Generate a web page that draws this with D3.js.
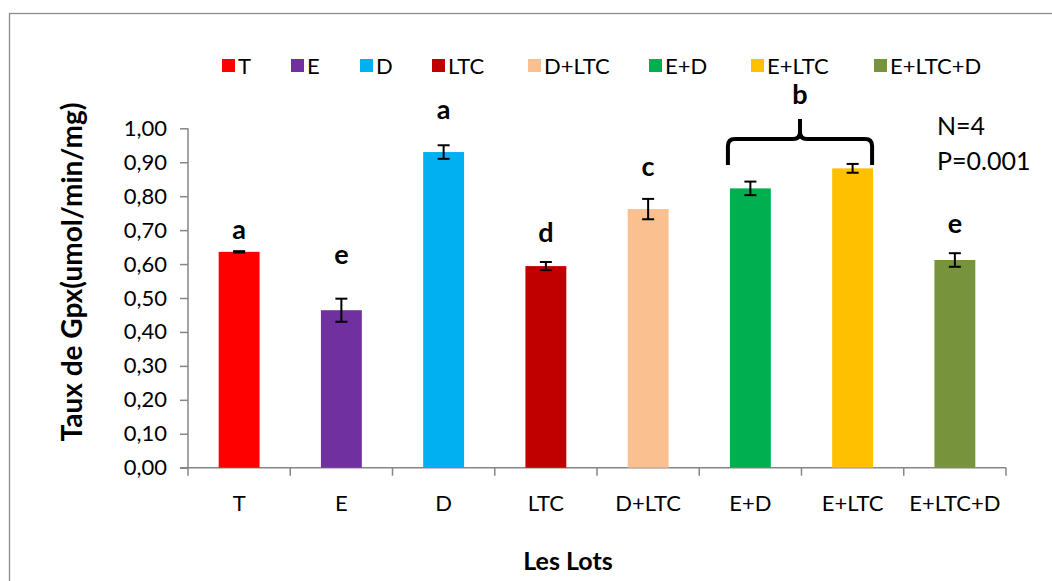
<!DOCTYPE html>
<html><head><meta charset="utf-8">
<script src="https://cdn.jsdelivr.net/npm/d3@7"></script>
<style>
html,body{margin:0;padding:0;background:#fff;overflow:hidden}
svg{display:block}
text{font-family:Lato,"Open Sans",sans-serif}
</style></head>
<body>
<svg id="chart" width="1052" height="581"></svg>
<script>
const categories = ["T","E","D","LTC","D+LTC","E+D","E+LTC","E+LTC+D"];
const values = [0.636,0.464,0.930,0.594,0.762,0.823,0.882,0.612];
const errors = [0.002,0.034,0.020,0.012,0.030,0.020,0.013,0.020];
const colors = ["#FF0000","#7030A0","#00B0F0","#C00000","#FAC090","#00B050","#FFC000","#77933C"];
const letters = ["a","e","a","d","c","","","e"];
const yTicks = [0,0.1,0.2,0.3,0.4,0.5,0.6,0.7,0.8,0.9,1.0];

(function(){
const svg = d3.select("#chart");
const pl = 188, pr = 1006, pt = 128.3, pb = 467.7;

svg.append("rect").attr("x",9.5).attr("y",13.5).attr("width",1100).attr("height",700)
  .attr("fill","none").attr("stroke","#8c8c8c").attr("stroke-width",1.3);

const x = d3.scaleBand().domain(categories).range([pl,pr]).paddingInner(0.6).paddingOuter(0.3);
const y = d3.scaleLinear().domain([0,1]).range([pb,pt]);

// y axis
const yAxis = svg.append("g").attr("transform",`translate(${pl},0)`)
  .call(d3.axisLeft(y).tickValues(yTicks).tickSize(8).tickPadding(13)
    .tickFormat(d => d3.format(".2f")(d).replace(".",",")));
yAxis.selectAll("line").attr("stroke","#868686").attr("stroke-width",1.5);
yAxis.select(".domain").attr("stroke","#868686").attr("stroke-width",1.5).attr("d",`M0,${pt}V${pb}`);
yAxis.selectAll("text").attr("font-size",22).attr("fill","#000").attr("font-family","Lato");

// x axis
const xg = svg.append("g").attr("transform",`translate(0,${pb})`);
xg.append("line").attr("x1",pl-8).attr("x2",pr).attr("y1",0).attr("y2",0)
  .attr("stroke","#868686").attr("stroke-width",1.5);
const bw = x.step();
const tickPos = d3.range(categories.length+1).map(i => pl + i*bw);
xg.selectAll("line.t").data(tickPos).enter().append("line").attr("class","t")
  .attr("x1",d=>d).attr("x2",d=>d).attr("y1",0).attr("y2",8)
  .attr("stroke","#868686").attr("stroke-width",1.5);
xg.selectAll("text.l").data(categories).enter().append("text").attr("class","l")
  .attr("x",d=>x(d)+x.bandwidth()/2).attr("y",43).attr("text-anchor","middle")
  .attr("font-size",22).text(d=>d);

// bars
svg.selectAll("rect.bar").data(categories).enter().append("rect").attr("class","bar")
  .attr("x",d=>x(d)).attr("width",x.bandwidth())
  .attr("y",(d,i)=>y(values[i])).attr("height",(d,i)=>pb-y(values[i]))
  .attr("fill",(d,i)=>colors[i]);

// error bars
const eg = svg.append("g").attr("stroke","#000").attr("stroke-width",2);
categories.forEach((c,i)=>{
  const cx = x(c)+x.bandwidth()/2;
  const y1 = y(values[i]+errors[i]), y2 = y(values[i]-errors[i]);
  eg.append("line").attr("x1",cx).attr("x2",cx).attr("y1",y1).attr("y2",y2);
  eg.append("line").attr("x1",cx-6).attr("x2",cx+6).attr("y1",y1).attr("y2",y1);
  eg.append("line").attr("x1",cx-6).attr("x2",cx+6).attr("y1",y2).attr("y2",y2);
});

// letters
const letterBase = [239,264,119,242,176,0,0,233];
categories.forEach((c,i)=>{
  if(!letters[i]) return;
  svg.append("text").attr("x",x(c)+x.bandwidth()/2).attr("y",letterBase[i])
    .attr("text-anchor","middle").attr("font-size",27).attr("font-weight","bold").text(letters[i]);
});

// brace over E+D and E+LTC
const bx1 = x("E+D")-2, bx2 = x("E+LTC")+x.bandwidth()-1, bm = (bx1+bx2)/2;
const yb = 165, yh = 139, yp = 112, r = 7;
svg.append("path").attr("fill","none").attr("stroke","#000").attr("stroke-width",4)
  .attr("stroke-linejoin","round")
  .attr("d",`M${bx1},${yb} V${yh+r} Q${bx1},${yh} ${bx1+r},${yh} H${bm-r} Q${bm},${yh} ${bm},${yh-r} V${yp+r} M${bm},${yh-r} Q${bm},${yh} ${bm+r},${yh} H${bx2-r} Q${bx2},${yh} ${bx2},${yh+r} V${yb}`);
svg.append("text").attr("x",bm).attr("y",104).attr("text-anchor","middle")
  .attr("font-size",27).attr("font-weight","bold").text("b");

// N & P
svg.append("text").attr("x",937).attr("y",135).attr("font-size",25).text("N=4");
svg.append("text").attr("x",937).attr("y",170).attr("font-size",25).text("P=0.001");

// legend
const legX = [240,309,378,450,546,667,769,892];
const lg = svg.append("g");
categories.forEach((c,i)=>{
  lg.append("rect").attr("x",legX[i]-18).attr("y",59).attr("width",13).attr("height",13).attr("fill",colors[i]);
  lg.append("text").attr("x",legX[i]-2).attr("y",73.5).attr("font-size",22).text(c);
});

// axis titles
svg.append("text").attr("transform","translate(82,272) rotate(-90)").attr("text-anchor","middle")
  .attr("font-size",28).attr("font-weight","bold").text("Taux de Gpx(umol/min/mg)");
svg.append("text").attr("x",568).attr("y",570).attr("text-anchor","middle")
  .attr("font-size",25).attr("font-weight","bold").text("Les Lots");
})();
</script>
</body></html>
